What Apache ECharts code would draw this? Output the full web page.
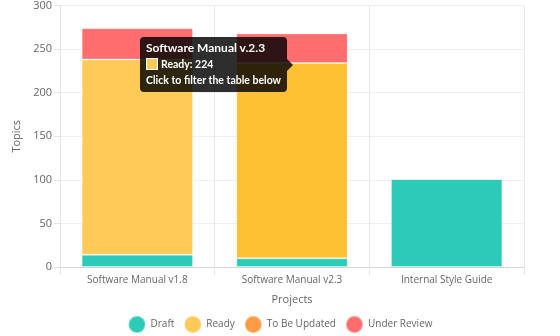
<!DOCTYPE html>
<html>
<head>
<meta charset="utf-8">
<script src="https://cdn.jsdelivr.net/npm/echarts@6/dist/echarts.min.js"></script>
<style>
html,body{margin:0;padding:0;background:#fff;}
#container{width:560px;height:336px;}
</style>
</head>
<body>
<div id="container"></div>
<script>
var projects = ['Software Manual v1.8', 'Software Manual v2.3', 'Internal Style Guide'];
var projectTitles = ['Software Manual v.1.8', 'Software Manual v.2.3', 'Internal Style Guide'];
var draft = [14, 10, 101];
var ready = [224, 224, 0];
var toBeUpdated = [0, 0, 0];
var underReview = [36, 34, 0];
var yTicks = [0, 50, 100, 150, 200, 250, 300];

var colors = ['#2ECAB8', '#FFCA57', '#FF9A45', '#FF6E6E'];

var myChart = echarts.init(document.getElementById('container'));

function bar(name, data, hover){
	return {
		name: name,
		type: 'bar',
		stack: 'topics',
		barWidth: '72%',
		data: data,
		itemStyle: {borderColor: 'rgba(255,255,255,0.3)', borderWidth: 1},
		emphasis: {focus: 'none', itemStyle: {color: hover}}
	};
}

var option = {
	color: colors,
	textStyle: {fontFamily: 'Open Sans, sans-serif'},
	grid: {left: 60, right: 36, top: 4, bottom: 69},
	tooltip: {
		trigger: 'item',
		alwaysShowContent: true,
		backgroundColor: 'rgba(0,0,0,0.82)',
		borderWidth: 0,
		padding: [3, 6, 4, 6],
		extraCssText: 'border-radius:4px;box-shadow:none;overflow:visible;',
		position: function(){ return [140, 37]; },
		formatter: function(p){
			return '<div style="position:relative;font:bold 10.5px Lato,sans-serif;color:#fff;line-height:16px;">'
				+ '<div style="font-size:12px;">' + projectTitles[p.dataIndex] + '</div>'
				+ '<div><span style="display:inline-block;width:10px;height:10px;background:' + p.color
				+ ';border:1px solid #fff;vertical-align:-2px;margin-right:3px;"></span>' + p.seriesName + ': ' + p.value + '</div>'
				+ '<div>Click to filter the table below</div>'
				+ '<div style="position:absolute;right:-12px;top:19px;width:0;height:0;border-top:6px solid transparent;'
				+ 'border-bottom:6px solid transparent;border-left:6px solid rgba(0,0,0,0.82);"></div>'
				+ '</div>';
		}
	},
	legend: {
		top: 310,
		left: 'center',
		icon: 'circle',
		itemWidth: 17,
		itemHeight: 17,
		itemGap: 9,
		textStyle: {color: '#666', fontSize: 10},
		data: ['Draft', 'Ready', 'To Be Updated', 'Under Review']
	},
	xAxis: {
		type: 'category',
		data: projects,
		name: 'Projects',
		nameLocation: 'middle',
		nameGap: 27,
		nameTextStyle: {color: '#666', fontSize: 11},
		axisLine: {lineStyle: {color: '#d6d6d6'}},
		axisTick: {show: true, alignWithLabel: false, length: 8, lineStyle: {color: '#e6e6e6'}},
		axisLabel: {color: '#666', fontSize: 10, margin: 8},
		splitLine: {show: true, lineStyle: {color: '#e8e8e8'}}
	},
	yAxis: {
		type: 'value',
		min: 0,
		max: 300,
		interval: 50,
		name: 'Topics',
		nameLocation: 'middle',
		nameGap: 33,
		nameTextStyle: {color: '#666', fontSize: 11},
		axisLine: {show: true, lineStyle: {color: '#e3e3e3'}},
		axisTick: {show: true, length: 6, lineStyle: {color: '#e3e3e3'}},
		axisLabel: {color: '#666', fontSize: 11, margin: 8,
			formatter: function(v){ return yTicks.indexOf(v) >= 0 ? v : ''; }},
		splitLine: {lineStyle: {color: '#efefef'}}
	},
	series: [
		bar('Draft', draft, '#20BFAD'),
		bar('Ready', ready, '#FFC033'),
		bar('To Be Updated', toBeUpdated, '#FF8C2E'),
		bar('Under Review', underReview, '#FF5A5A')
	]
};
myChart.setOption(option);
myChart.dispatchAction({type: 'highlight', seriesIndex: 1, dataIndex: 1});
myChart.dispatchAction({type: 'showTip', seriesIndex: 1, dataIndex: 1});
</script>
</body>
</html>
